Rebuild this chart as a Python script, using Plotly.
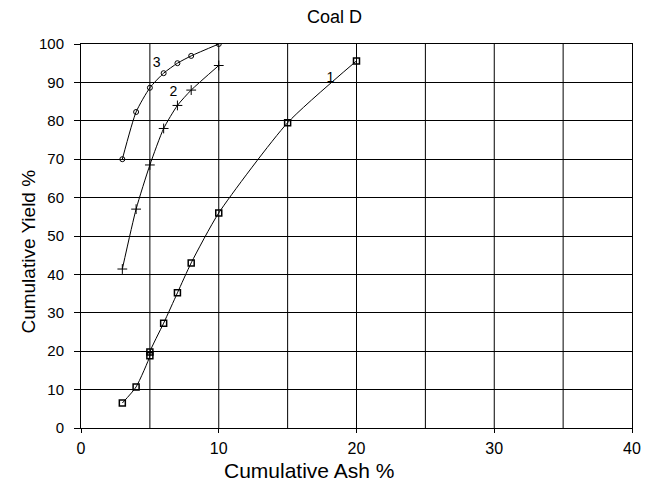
import plotly.graph_objects as go

# Curve 1 (squares)
ash1 = [3, 4, 5, 5, 6, 7, 8, 10, 15, 20]
yield1 = [6.5, 10.7, 18.8, 19.8, 27.3, 35.2, 43, 56, 79.5, 95.6]
# Curve 2 (plus)
ash2 = [3, 4, 5, 6, 7, 8, 10]
yield2 = [41.4, 57, 68.5, 78, 84, 88, 94.4]
# Curve 3 (circles)
ash3 = [3, 4, 5, 6, 7, 8, 10]
yield3 = [70, 82.3, 88.6, 92.4, 95, 96.9, 100]

labels = ["1", "2", "3"]
label_x = [18.1, 6.7, 5.5]
label_y = [91, 87.5, 95]

x_ticks = [0, 10, 20, 30, 40]
y_ticks = [0, 10, 20, 30, 40, 50, 60, 70, 80, 90, 100]

FONT = "Liberation Sans, Arial"

fig = go.Figure()
fig.add_trace(go.Scatter(x=ash1, y=yield1, mode="lines+markers", line=dict(color="black", width=1, shape="spline", smoothing=0.6),
                         marker=dict(symbol="square-open", size=6, color="black", line=dict(width=1.5))))
fig.add_trace(go.Scatter(x=ash2, y=yield2, mode="lines+markers", line=dict(color="black", width=1, shape="spline", smoothing=0.6),
                         marker=dict(symbol="cross-thin", size=7, color="black", line=dict(width=1, color="black"))))
fig.add_trace(go.Scatter(x=ash3, y=yield3, mode="lines+markers", line=dict(color="black", width=1, shape="spline", smoothing=0.6),
                         marker=dict(symbol="circle-open", size=5, color="black", line=dict(width=1))))
fig.add_trace(go.Scatter(x=label_x, y=label_y, mode="text", text=labels,
                         textfont=dict(family=FONT, size=14, color="black")))

fig.update_layout(
    width=653, height=481,
    margin=dict(l=81, r=15, t=44, b=53),
    paper_bgcolor="white", plot_bgcolor="white",
    showlegend=False,
    font=dict(family=FONT, size=15, color="black"),
    annotations=[
        dict(text="Coal D", x=337, y=481 - 17, xref="paper", yref="paper", showarrow=False,
             font=dict(size=18)),
        dict(text="Cumulative Ash %", x=311, y=481 - 470, xref="paper", yref="paper", showarrow=False,
             font=dict(size=21)),
        dict(text="Cumulative Yield %", x=27, y=481 - 252, xref="paper", yref="paper", showarrow=False,
             textangle=-90, font=dict(size=19)),
    ],
)
# convert pixel annotation positions to paper fractions
pw, ph = 653 - 81 - 15, 481 - 44 - 53
for a in fig.layout.annotations:
    a.x = (a.x - 81) / pw
    a.y = (a.y - 53) / ph
    a.xanchor = "center"
    a.yanchor = "middle"

fig.update_xaxes(range=[0, 40], tickvals=x_ticks, ticks="outside", ticklen=4, tickcolor="black",
                 showline=True, linecolor="black", linewidth=1, mirror=True,
                 showgrid=False, zeroline=False, tickfont=dict(size=16), ticklabelstandoff=2)
fig.update_yaxes(range=[0, 100], tickvals=y_ticks, ticks="outside", ticklen=6, tickcolor="black",
                 showline=True, linecolor="black", linewidth=1, mirror=True,
                 showgrid=True, gridcolor="black", gridwidth=1, zeroline=False,
                 tickfont=dict(size=15), ticklabelstandoff=7)
# vertical grid every 5
for gx in [5, 10, 15, 20, 25, 30, 35]:
    fig.add_vline(x=gx, line=dict(color="black", width=1), layer="below")

fig.write_html("out.html")
